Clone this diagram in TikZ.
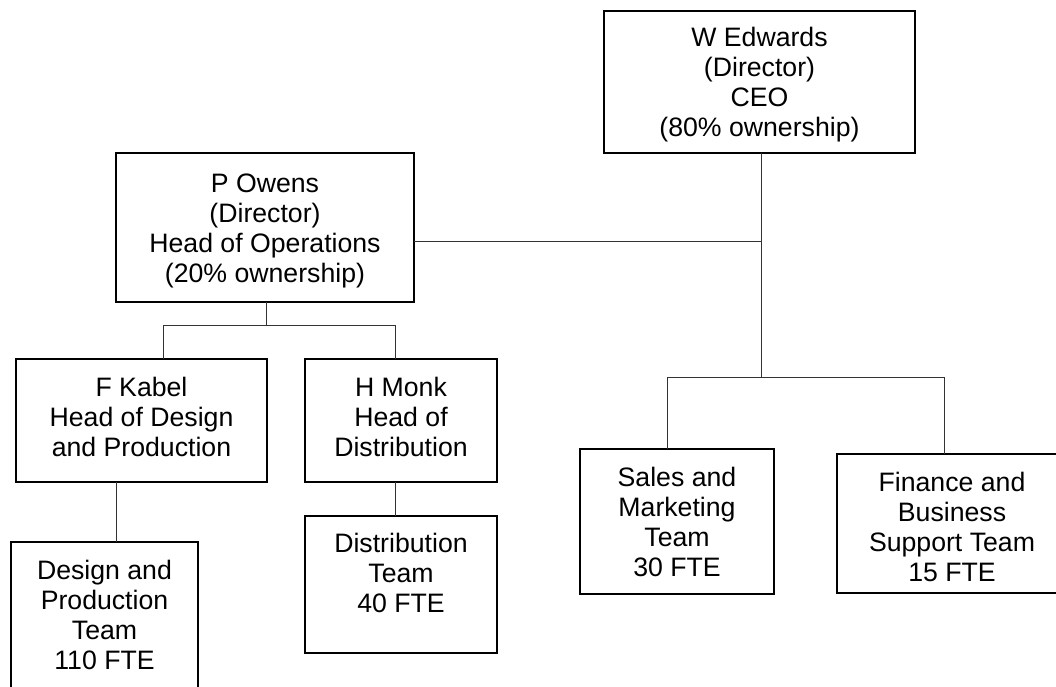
\documentclass[tikz,border=0pt]{standalone}
\usepackage{fontspec}
\setmainfont{Liberation Sans}
\tikzset{
  box/.style={draw, line width=1.5pt, outer sep=0pt, inner sep=0pt, align=center,
    font=\fontsize{20}{22.5}\selectfont},
  sz/.style n args={2}{minimum width=#1*0.75pt, minimum height=#2*0.75pt},
  txt/.style={align=center, inner sep=0pt, font=\fontsize{20}{22.5}\selectfont},
  conn/.style={draw=black!80, line width=0.75pt}
}
\begin{document}
\begin{tikzpicture}[x=0.75pt,y=-0.75pt]
\useasboundingbox (0,0) rectangle (1056,686);
\clip (0,0) rectangle (1056,686);

% boxes
\node[box, sz={311}{142}] (we) at (759.5,82) {};
\node[txt] (wet) at ([yshift=-2.25pt]we.center) {W Edwards\\(Director)\\CEO\\(80\% ownership)};
\node[box, sz={298}{149}] (po) at (265,227.5) {};
\node[txt] (pot) at ([yshift=-2.25pt]po.center) {P Owens\\(Director)\\Head of Operations\\(20\% ownership)};
\node[box, sz={251}{123}] (fk) at (141.5,420.5) {};
\node[txt] (fkt) at ([yshift=3pt]fk.center) {F Kabel\\Head of Design\\and Production};
\node[box, sz={192}{123}] (hm) at (401,420.5) {};
\node[txt] (hmt) at ([yshift=3pt]hm.center) {H Monk\\Head of\\Distribution};
\node[box, sz={187}{146}] (dp) at (104.5,615) {Design and\\Production\\Team\\110 FTE};
\node[box, sz={192}{137}] (dt) at (401,584.5) {};
\node[txt] (dtt) at (401,573) {Distribution\\Team\\40 FTE};
\node[box, sz={194}{145}] (sm) at (677,521.5) {Sales and\\Marketing\\Team\\30 FTE};
\node[box, sz={230}{139}] (fb) at (952,523.5) {};
\node[txt] (fbt) at ([yshift=-2.25pt]fb.center) {Finance and\\Business\\Support Team\\15 FTE};

% junction coordinates
\coordinate (wj) at (761,241);
\coordinate (wb) at (761,377);
\coordinate (sL) at (667,377);
\coordinate (fR) at (944,377);
\coordinate (pb) at (266,325);
\coordinate (kL) at (163,325);
\coordinate (mR) at (395,325);
\coordinate (kx) at (116,510);

% connectors
\draw[conn] (we.south -| wb) -- (wb);
\draw[conn] (po.east |- wj) -- (wj);
\draw[conn] (sm.north -| sL) -- (sL) -- (fR) -- (fb.north -| fR);
\draw[conn] (po.south -| pb) -- (pb);
\draw[conn] (fk.north -| kL) -- (kL) -- (mR) -- (hm.north -| mR);
\draw[conn] (fk.south -| kx) -- (dp.north -| kx);
\draw[conn] (hm.south -| mR) -- (dt.north -| mR);
\end{tikzpicture}
\end{document}
